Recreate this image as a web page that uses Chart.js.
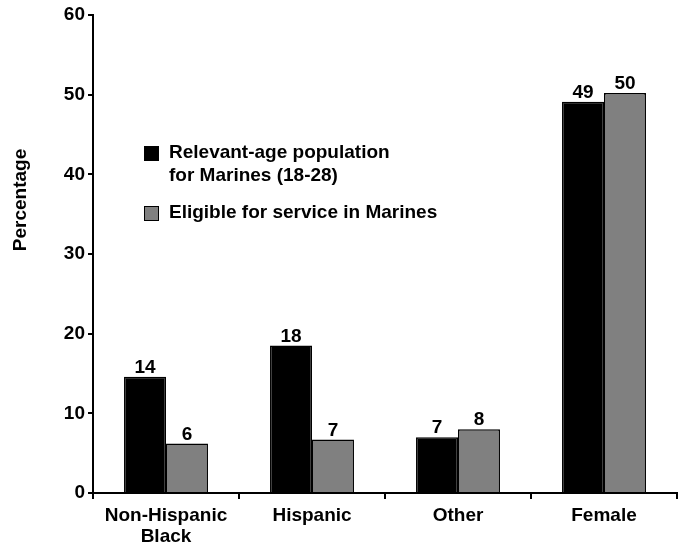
<!DOCTYPE html>
<html>
<head>
<meta charset="utf-8">
<script src="https://cdn.jsdelivr.net/npm/chart.js@4"></script>
<style>
  html, body { margin: 0; padding: 0; background: #fff; }
  #wrap { width: 684px; height: 544px; }
</style>
</head>
<body>
<div id="wrap"><canvas id="chart" width="684" height="544"></canvas></div>
<script>
// Categories along the x axis
const categories = [['Non-Hispanic', 'Black'], 'Hispanic', 'Other', 'Female'];

// Series values (percent)
const relevantAge = [14.6, 18.5, 7.0, 49.1];
const eligible = [6.2, 6.7, 8.0, 50.2];

// Printed labels above bars
const relevantAgeLabels = ['14', '18', '7', '49'];
const eligibleLabels = ['6', '7', '8', '50'];

// Y axis ticks
const yMin = 0, yMax = 60, yStep = 10;
const yTitle = 'Percentage';

const FONT = '"Liberation Sans", Arial, sans-serif';

// Draw the numbers above each bar
const valueLabels = {
    id: 'valueLabels',
    afterDatasetsDraw(chart) {
        const ctx = chart.ctx;
        const sets = [relevantAgeLabels, eligibleLabels];
        ctx.save();
        ctx.font = 'bold 19px ' + FONT;
        ctx.fillStyle = '#000';
        ctx.textAlign = 'center';
        ctx.textBaseline = 'alphabetic';
        chart.data.datasets.forEach((ds, i) => {
            chart.getDatasetMeta(i).data.forEach((bar, j) => {
                ctx.fillText(sets[i][j], bar.x, bar.y - 4);
            });
        });
        ctx.restore();
    }
};

// Legend inside the plot (upper left) and the y axis title
const insideLegend = {
    id: 'insideLegend',
    afterDraw(chart) {
        const ctx = chart.ctx;
        const ds = chart.data.datasets;
        ctx.save();
        ctx.font = 'bold 19px ' + FONT;
        ctx.textBaseline = 'middle';
        ctx.textAlign = 'left';
        const x = 144, rows = [153, 213];
        ds.forEach((d, i) => {
            ctx.fillStyle = d.backgroundColor;
            ctx.fillRect(x, rows[i] - 7, 15, 15);
            ctx.strokeStyle = '#000';
            ctx.lineWidth = 1;
            ctx.strokeRect(x + 0.5, rows[i] - 6.5, 14, 14);
            ctx.fillStyle = '#000';
            const lines = Array.isArray(d.label) ? d.label : [d.label];
            lines.forEach((t, k) => ctx.fillText(t, x + 25, rows[i] + k * 23));
        });

        ctx.translate(21, 200);
        ctx.rotate(-Math.PI / 2);
        ctx.textAlign = 'center';
        ctx.fillText(yTitle, 0, 0);
        ctx.restore();
    }
};

new Chart(document.getElementById('chart').getContext('2d'), {
    type: 'bar',
    data: {
        labels: categories,
        datasets: [{
            label: ['Relevant-age population', 'for Marines (18-28)'],
            data: relevantAge,
            backgroundColor: '#000000',
            borderColor: '#000000',
            borderWidth: 1.5,
            categoryPercentage: 0.575,
            barPercentage: 1.0
        }, {
            label: 'Eligible for service in Marines',
            data: eligible,
            backgroundColor: '#808080',
            borderColor: '#000000',
            borderWidth: 1.5,
            categoryPercentage: 0.575,
            barPercentage: 1.0
        }]
    },
    options: {
        responsive: false,
        animation: false,
        layout: { padding: { top: 15, right: 7, left: 0, bottom: 0 } },
        plugins: {
            legend: { display: false },
            tooltip: { enabled: false }
        },
        scales: {
            x: {
                grid: {
                    offset: true,
                    drawOnChartArea: false,
                    drawTicks: true,
                    tickLength: 6,
                    color: '#000',
                    lineWidth: 2
                },
                border: { display: true, color: '#000', width: 2 },
                ticks: {
                    color: '#000',
                    font: { family: FONT, size: 19, weight: 'bold', lineHeight: 1.1 },
                    padding: 6,
                    maxRotation: 0,
                    autoSkip: false
                },
                afterFit(scale) { scale.height = 51; }
            },
            y: {
                min: yMin,
                max: yMax,
                grid: {
                    drawOnChartArea: false,
                    drawTicks: true,
                    tickLength: 5,
                    color: '#000',
                    lineWidth: 2
                },
                border: { display: true, color: '#000', width: 2 },
                ticks: {
                    stepSize: yStep,
                    color: '#000',
                    font: { family: FONT, size: 19, weight: 'bold' },
                    padding: 3
                },
                afterFit(scale) { scale.width = 93; }
            }
        }
    },
    plugins: [valueLabels, insideLegend]
});
</script>
</body>
</html>
